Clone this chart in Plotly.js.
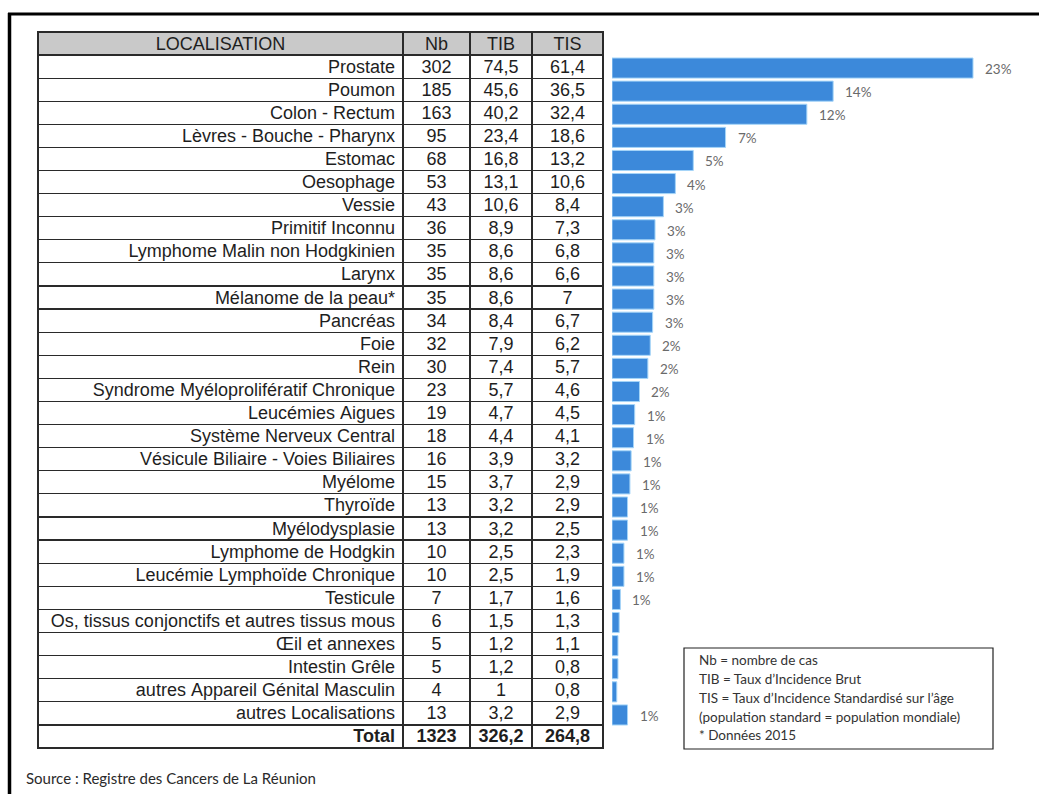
<!DOCTYPE html>
<html>
<head>
<meta charset="utf-8">
<script src="https://cdn.plot.ly/plotly-3.0.1.min.js"></script>
<style>
html,body{margin:0;padding:0;background:#fff;}
#chart{width:1039px;height:794px;}
</style>
</head>
<body>
<div id="chart"></div>
<script>
// ---- data ----
const localisations = [
  "Prostate","Poumon","Colon - Rectum","Lèvres - Bouche - Pharynx","Estomac","Oesophage",
  "Vessie","Primitif Inconnu","Lymphome Malin non Hodgkinien","Larynx","Mélanome de la peau*",
  "Pancréas","Foie","Rein","Syndrome Myéloprolifératif Chronique","Leucémies Aigues",
  "Système Nerveux Central","Vésicule Biliaire - Voies Biliaires","Myélome","Thyroïde",
  "Myélodysplasie","Lymphome de Hodgkin","Leucémie Lymphoïde Chronique","Testicule",
  "Os, tissus conjonctifs et autres tissus mous","Œil et annexes","Intestin Grêle",
  "autres Appareil Génital Masculin","autres Localisations"
];
const nb  = [302,185,163,95,68,53,43,36,35,35,35,34,32,30,23,19,18,16,15,13,13,10,10,7,6,5,5,4,13];
const tib = [74.5,45.6,40.2,23.4,16.8,13.1,10.6,8.9,8.6,8.6,8.6,8.4,7.9,7.4,5.7,4.7,4.4,3.9,3.7,3.2,3.2,2.5,2.5,1.7,1.5,1.2,1.2,1,3.2];
const tis = [61.4,36.5,32.4,18.6,13.2,10.6,8.4,7.3,6.8,6.6,7,6.7,6.2,5.7,4.6,4.5,4.1,3.2,2.9,2.9,2.5,2.3,1.9,1.6,1.3,1.1,0.8,0.8,2.9];
const pctLabels = ["23%","14%","12%","7%","5%","4%","3%","3%","3%","3%","3%","3%","2%","2%","2%","1%","1%","1%","1%","1%","1%","1%","1%","1%","","","","","1%"];
const headers = ["LOCALISATION","Nb","TIB","TIS"];
const totalLabel = "Total";
const totalNb = 1323, totalTIB = 326.2, totalTIS = 264.8;
const noteLines = [
  "Nb = nombre de cas",
  "TIB = Taux d’Incidence Brut",
  "TIS = Taux d’Incidence Standardisé sur l’âge",
  "(population standard = population mondiale)",
  "* Données 2015"
];
const sourceText = "Source : Registre des Cancers de La Réunion";

// ---- helpers ----
const W = 1039, H = 794;
const px = x => x / W;
const py = y => 1 - y / H;
const fr = v => String(v).replace('.', ',');
const nowrap = s => s.replace(/ /g, '\u00a0');

const col0 = localisations.map(nowrap).concat([totalLabel]);
const col1 = nb.map(String).concat([String(totalNb)]);
const col2 = tib.map(fr).concat([fr(totalTIB)]);
const col3 = tis.map(fr).concat([fr(totalTIS)]);
const nRows = col0.length;
const weightCol = Array.from({length: nRows}, (_, r) => r === nRows - 1 ? 'bold' : 'normal');

const tableFontFamily = "Liberation Sans, Arial, sans-serif";

const tableTrace = {
  type: "table",
  domain: {x: [px(38), px(603)], y: [py(775), py(32)]},
  columnwidth: [365, 67, 62, 71],
  header: {
    values: headers,
    align: "center",
    height: 23,
    fill: {color: "#c9c9c9"},
    line: {color: "#2a2a2a", width: 1.2},
    font: {family: tableFontFamily, size: 18, color: "#1e1e1e"}
  },
  cells: {
    values: [col0, col1, col2, col3],
    align: ["right", "center", "center", "center"],
    height: 23.1,
    fill: {color: "#ffffff"},
    line: {color: "#2a2a2a", width: 1.2},
    font: {family: tableFontFamily, size: 18, color: "#1e1e1e",
           weight: [weightCol, weightCol, weightCol, weightCol]}
  }
};

const barTrace = {
  type: "bar",
  orientation: "h",
  x: nb,
  y: localisations,
  xaxis: "x",
  yaxis: "y",
  marker: {color: "#3c89da", line: {color: "#a5d5f8", width: 1}},
  hoverinfo: "skip"
};

const annotations = [];
localisations.forEach((loc, i) => {
  if (pctLabels[i]) {
    annotations.push({
      x: nb[i], y: loc, xref: "x", yref: "y",
      text: pctLabels[i], showarrow: false,
      xanchor: "left", yanchor: "middle", xshift: 10, yshift: -1,
      font: {family: "Lato, Open Sans, sans-serif", size: 13.5, color: "#6a6a6a"}
    });
  }
});
const noteY = [660, 679, 698, 717, 735];
noteLines.forEach((t, i) => {
  annotations.push({
    x: px(697), y: py(noteY[i]), xref: "paper", yref: "paper",
    text: t, showarrow: false, xanchor: "left", yanchor: "middle",
    font: {family: "Lato, Open Sans, sans-serif", size: 13.5, color: "#333"}
  });
});
annotations.push({
  x: px(24), y: py(778), xref: "paper", yref: "paper",
  text: sourceText, showarrow: false, xanchor: "left", yanchor: "middle",
  font: {family: "Lato, Open Sans, sans-serif", size: 15, color: "#2a2a2a"}
});

const shapes = [
  // outer frame (top and left)
  {type: "line", xref: "paper", yref: "paper", x0: px(8), x1: 1, y0: py(14), y1: py(14), line: {color: "#000", width: 3}},
  {type: "line", xref: "paper", yref: "paper", x0: px(9.5), x1: px(9.5), y0: py(13), y1: 0, line: {color: "#000", width: 3.5}},
  // notes box
  {type: "rect", xref: "paper", yref: "paper", x0: px(684), x1: px(993), y0: py(749), y1: py(648), line: {color: "#222", width: 1.2}}
];

const layout = {
  width: W, height: H,
  margin: {l: 0, r: 0, t: 0, b: 0},
  paper_bgcolor: "#fff", plot_bgcolor: "rgba(0,0,0,0)",
  showlegend: false,
  bargap: 0.13,
  xaxis: {domain: [px(612), 1], range: [0, 357.2], visible: false, fixedrange: true},
  yaxis: {domain: [py(726.5), py(56.5)], type: "category", categoryarray: localisations,
          range: [localisations.length - 0.5, -0.5], visible: false, fixedrange: true},
  annotations: annotations,
  shapes: shapes
};

Plotly.newPlot("chart", [tableTrace, barTrace], layout, {displayModeBar: false, staticPlot: true}).then(() => {
  // lift table text so it sits centred in its 23px rows
  document.querySelectorAll('#chart .cell-text').forEach(t => {
    const tr = t.getAttribute('transform') || '';
    t.setAttribute('transform', tr + ' translate(0,-4)');
  });
});
</script>
</body>
</html>
